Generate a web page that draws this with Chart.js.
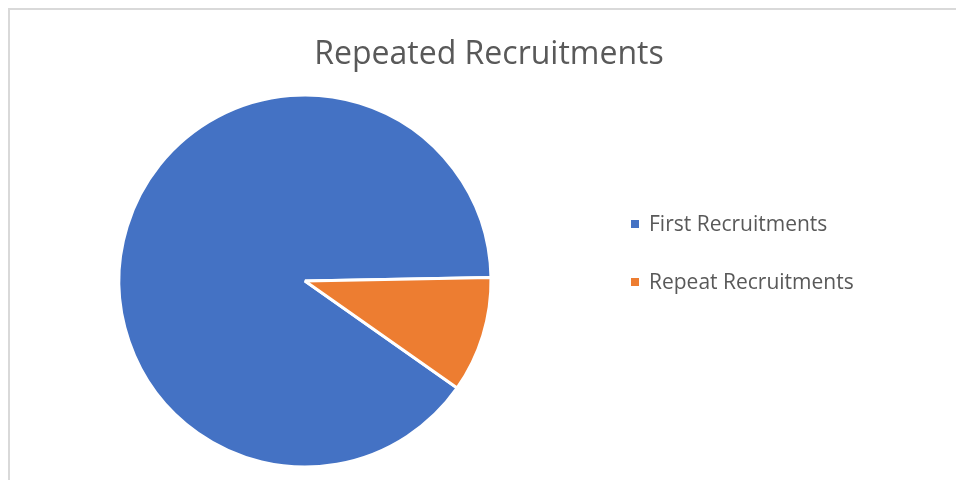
<!DOCTYPE html>
<html>
<head>
<meta charset="utf-8">
<script src="https://cdn.jsdelivr.net/npm/chart.js"></script>
<style>
  html, body { margin: 0; padding: 0; background: #fff; }
  #wrap { position: relative; width: 956px; height: 480px; overflow: hidden; }
  #frame {
    position: absolute; left: 8px; top: 8px; right: -4px; bottom: -4px;
    border-left: 2px solid #d9d9d9; border-top: 2px solid #d9d9d9;
  }
  #chart { position: absolute; left: 0; top: 0; }
  #title {
    position: absolute; left: 0; width: 978px; top: 32px; height: 40px; line-height: 40px; text-align: center;
    font-family: "Open Sans", sans-serif; font-size: 32px; color: #595959;
  }
  #legend { position: absolute; left: 631px; top: 0; font-family: "Open Sans", sans-serif; font-size: 21px; color: #595959; }
  .item { position: absolute; left: 0; white-space: nowrap; height: 24px; line-height: 24px; }
  .swatch { position: absolute; left: 0; top: 9px; width: 8px; height: 8px; }
  .label { position: absolute; left: 18px; top: 0; }
</style>
</head>
<body>
<div id="wrap">
  <div id="frame"></div>
  <canvas id="chart" width="956" height="480"></canvas>
  <div id="title"></div>
  <div id="legend"></div>
</div>
<script>
const chartTitle = 'Repeated Recruitments';
const categories = ['First Recruitments', 'Repeat Recruitments'];
const counts = [358, 40];
const sliceColors = ['#4472C4', '#ED7D31'];

document.getElementById('title').textContent = chartTitle;

// html legend, one row per category
const legend = document.getElementById('legend');
const rowTops = [211, 269];
categories.forEach((name, i) => {
  const row = document.createElement('div');
  row.className = 'item';
  row.style.top = rowTops[i] + 'px';
  const sw = document.createElement('span');
  sw.className = 'swatch';
  sw.style.background = sliceColors[i];
  const txt = document.createElement('span');
  txt.className = 'label';
  txt.textContent = name;
  row.appendChild(sw);
  row.appendChild(txt);
  legend.appendChild(row);
});

new Chart(document.getElementById('chart'), {
  type: 'pie',
  data: {
    labels: categories,
    datasets: [{
      data: counts,
      backgroundColor: sliceColors,
      borderColor: '#fff',
      borderWidth: 3
    }]
  },
  options: {
    responsive: false,
    animation: false,
    rotation: 125.1,
    layout: {
      padding: { left: 117.5, right: 463.5, top: 93.5, bottom: 11.5 }
    },
    plugins: {
      legend: { display: false },
      title: { display: false },
      tooltip: { enabled: false }
    }
  }
});
</script>
</body>
</html>
